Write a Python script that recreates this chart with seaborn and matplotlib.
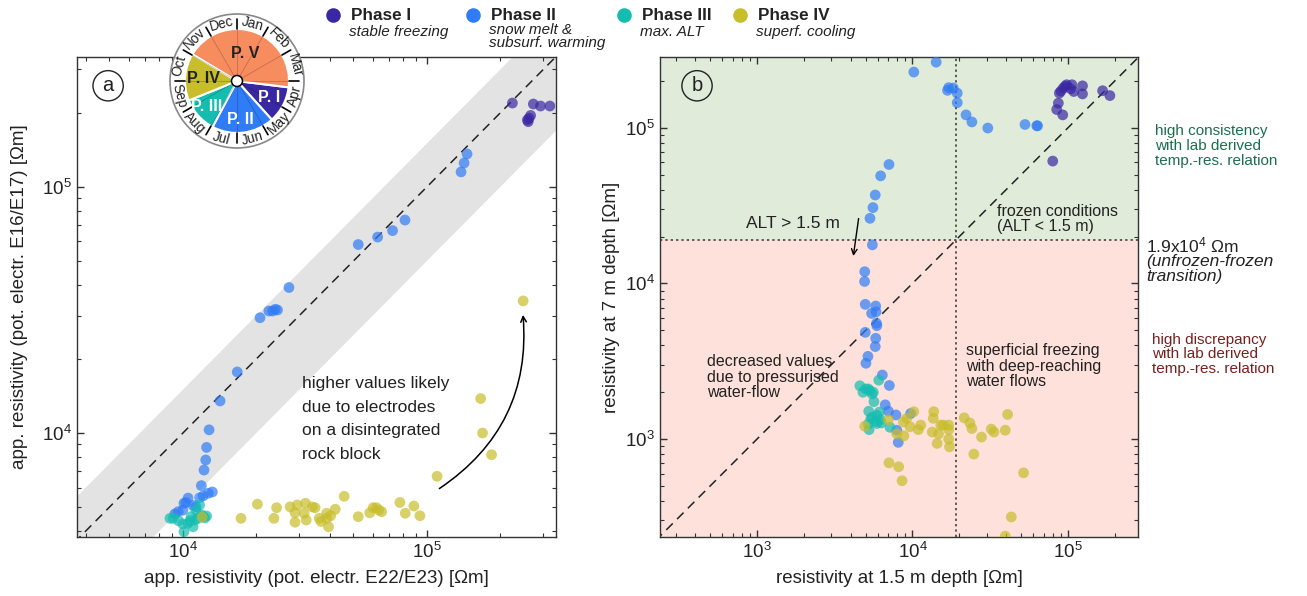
import numpy as np
import pandas as pd
import seaborn as sns
import matplotlib.pyplot as plt
from matplotlib.patches import Wedge, Circle
from matplotlib.lines import Line2D

# ---- data ----
phases = ['I', 'II', 'III', 'IV']
phase_names = ['Phase I', 'Phase II', 'Phase III', 'Phase IV']
phase_desc = ['stable freezing', 'snow melt &\nsubsurf. warming', 'max. ALT', 'superf. cooling']
colors = ['#3a27a3', '#2f7cf6', '#15bdb1', '#c8bd2a']
pv_color = '#f78c5f'

# panel a: E22/E23 (x) vs E16/E17 (y)
a_I_x = [224000, 273000, 292000, 319000, 262000, 258000, 266000, 260000]
a_I_y = [219000, 217000, 213000, 213000, 190000, 187000, 195000, 184000]
a_II_x = [146000, 142000, 138000, 81300, 72300, 62800, 52300, 27200, 23900, 23300, 22500, 24400,
          20700, 16700, 14200, 12800, 12500, 12400, 12200, 11900, 13200, 12700, 12100, 11700,
          10500, 10300, 10100, 11300, 11000, 10000, 9270, 9570]
a_II_y = [136000, 125000, 115000, 73300, 66400, 62500, 58300, 39000, 31800, 31300, 31300, 31600,
          29400, 17700, 13500, 10300, 8740, 7770, 7070, 6110, 5760, 5690, 5550, 5460,
          5440, 5220, 5180, 5010, 5080, 4860, 4690, 4790]
a_III_x = [8850, 9130, 10000, 10100, 11000, 10800, 11300, 11700, 12100, 12500, 11500, 11200,
           10500, 10700, 12300, 11900, 9600]
a_III_y = [4500, 4500, 4270, 3970, 4160, 4570, 4860, 5100, 4570, 4600, 4500, 4430,
           4300, 4400, 4520, 4650, 4400]
a_IV_x = [12000, 17300, 20200, 24200, 23600, 27500, 29400, 28800, 31800, 33900, 34800, 31400,
          32000, 28800, 36200, 36800, 38800, 40300, 39500, 38800, 42100, 45800, 52300, 58300,
          60200, 62100, 65200, 63500, 77500, 81500, 88400, 93600, 110000, 166000, 169000,
          184000, 248000]
a_IV_y = [4550, 4500, 5140, 4970, 4500, 5010, 5100, 4740, 5180, 5010, 4970, 4720,
          4430, 4340, 4500, 4370, 4720, 4610, 4160, 4500, 4900, 5530, 4570, 4740,
          4970, 4970, 4790, 4860, 5220, 4720, 5050, 4610, 6670, 13800, 10000,
          8160, 34400]

# panel b: 1.5 m depth (x) vs 7 m depth (y)
b_I_x = [79800, 92500, 84600, 86700, 88000, 93300, 98100, 106000, 109000, 124000, 124000,
         167000, 186000, 90000, 96000, 104000]
b_I_y = [61100, 121000, 131000, 144000, 167000, 180000, 189000, 189000, 171000, 186000, 165000,
         173000, 161000, 172000, 185000, 178000]
b_II_x = [10200, 14200, 17100, 16800, 18300, 19400, 19400, 22100, 24100, 30500, 52900, 63700,
          63000, 7060, 6240, 5760, 5570, 5330, 5520, 4930, 4920, 4970, 5800, 5460, 5830, 5870,
          4970, 5800, 5760, 5170, 5020, 6400, 7100, 6680, 7000, 7830, 9730, 7930, 8100, 5900]
b_II_y = [228000, 264000, 181000, 174000, 180000, 167000, 145000, 121000, 109000, 99600, 105000,
          103000, 103000, 58100, 49100, 37000, 30700, 26200, 17700, 11900, 10300, 7340, 7160,
          6420, 6570, 5550, 4850, 4440, 3930, 3400, 3070, 2580, 2210, 1660, 1510, 1430, 1460,
          1140, 953, 5350]
b_III_x = [6070, 4590, 5000, 5300, 5500, 5600, 4800, 5200, 5650, 5230, 6120, 5900, 5500, 5800,
           6200, 5200, 6300, 5260, 7170, 5400, 5900]
b_III_y = [2390, 2200, 2100, 2050, 1950, 2000, 2000, 2100, 1740, 1510, 1490, 1420, 1380, 1300,
           1330, 1250, 1270, 1150, 1190, 1350, 1260]
b_IV_x = [4930, 6990, 10200, 9190, 8740, 9650, 10900, 11300, 7930, 8810, 13700, 13600, 13400,
          14700, 14400, 15200, 15800, 17100, 17100, 17100, 17300, 21500, 23400, 24100, 27800,
          24800, 32100, 33400, 39500, 40900, 51800, 43200, 39500, 7060, 8150, 8570]
b_IV_y = [1210, 1330, 1500, 1360, 1290, 1200, 1150, 1230, 1080, 1050, 1500, 1360, 1110,
          1080, 938, 1230, 1230, 1230, 1150, 1000, 892, 1370, 1270, 1170, 1030,
          801, 1160, 1110, 1140, 1440, 607, 316, 238, 704, 664, 540]

months = ['Jan', 'Feb', 'Mar', 'Apr', 'May', 'Jun', 'Jul', 'Aug', 'Sep', 'Oct', 'Nov', 'Dec']
wheel_labels = ['P. I', 'P. II', 'P. III', 'P. IV', 'P. V']
wheel_spans = [(-48, -7), (-118, -48), (-158, -118), (149, 202), (-7, 149)]

threshold = 1.9e4


def frame(xs, ys):
    rows = []
    for ph, x, y in zip(phases, xs, ys):
        rows.append(pd.DataFrame({'x': x, 'y': y, 'phase': ph}))
    return pd.concat(rows, ignore_index=True)


df_a = frame([a_I_x, a_II_x, a_III_x, a_IV_x], [a_I_y, a_II_y, a_III_y, a_IV_y])
df_b = frame([b_I_x, b_II_x, b_III_x, b_IV_x], [b_I_y, b_II_y, b_III_y, b_IV_y])
pal = dict(zip(phases, colors))

sns.set_style('ticks')
plt.rcParams['font.family'] = ['Liberation Sans', 'DejaVu Sans']
plt.rcParams['mathtext.fontset'] = 'custom'
plt.rcParams['mathtext.rm'] = 'Liberation Sans'
plt.rcParams['mathtext.it'] = 'Liberation Sans:italic'
txt = '#222222'

fig = plt.figure(figsize=(13.07, 5.96), dpi=100)
ax1 = fig.add_axes([0.0589, 0.099, 0.3665, 0.8054])
ax2 = fig.add_axes([0.505, 0.099, 0.3657, 0.8054])


def style_axis(ax):
    ax.set_xscale('log')
    ax.set_yscale('log')
    ax.tick_params(which='both', direction='in', top=True, right=True, colors='#333333',
                   labelcolor=txt, labelsize=13.5)
    ax.tick_params(which='major', length=5, width=1)
    ax.tick_params(which='minor', length=3, width=0.8)
    for s in ax.spines.values():
        s.set_color('#333333')
        s.set_linewidth(1.0)


# ---- panel a ----
lo_a, hi_a = 3680, 338000
band_x = np.array([1000, 1e6])
ax1.fill_between(band_x, band_x * 0.5, band_x * 1.5, color='#e3e3e3', lw=0, zorder=0)
ax1.plot([1000, 1e6], [1000, 1e6], color='#222222', lw=1.1, dashes=(6, 4), zorder=1)
sns.scatterplot(data=df_a, x='x', y='y', hue='phase', palette=pal, s=60, alpha=0.7,
                linewidth=0, legend=False, ax=ax1, zorder=3)
style_axis(ax1)
ax1.set_xlim(lo_a, hi_a)
ax1.set_ylim(3780, 337000)
ax1.set_xlabel('app. resistivity (pot. electr. E22/E23) [Ωm]', fontsize=13.5, color=txt, labelpad=6)
ax1.set_ylabel('app. resistivity (pot. electr. E16/E17) [Ωm]', fontsize=13.5, color=txt, labelpad=10)
ax1.text(30700, 11400, 'higher values likely\ndue to electrodes\non a disintegrated\nrock block',
         fontsize=12.5, color=txt, va='center', ha='left', linespacing=1.72)
ax1.annotate('', xy=(247000, 31000), xytext=(110000, 5860),
             arrowprops=dict(arrowstyle='->', color='k', lw=1.1,
                             connectionstyle='arc3,rad=0.3'))
ax1.text(0.065, 0.94, 'a', transform=ax1.transAxes, fontsize=14.5, color=txt, ha='center',
         va='center', bbox=dict(boxstyle='circle,pad=0.28', fc='white', ec='#222222', lw=1))

# ---- panel b ----
ax2.axhspan(threshold, 1e7, color='#e0ebd9', lw=0, zorder=0)
ax2.axhspan(1, threshold, color='#fde1da', lw=0, zorder=0)
ax2.axhline(threshold, color='#333333', lw=1.1, ls=(0, (1.5, 2)), zorder=1)
ax2.axvline(threshold, color='#333333', lw=1.1, ls=(0, (1.5, 2)), zorder=1)
ax2.plot([100, 1e6], [100, 1e6], color='#222222', lw=1.1, dashes=(6, 4), zorder=1)
sns.scatterplot(data=df_b, x='x', y='y', hue='phase', palette=pal, s=60, alpha=0.7,
                linewidth=0, legend=False, ax=ax2, zorder=3)
style_axis(ax2)
ax2.set_xlim(238, 282000)
ax2.set_ylim(235, 285000)
ax2.set_xlabel('resistivity at 1.5 m depth [Ωm]', fontsize=13.5, color=txt, labelpad=6)
ax2.set_ylabel('resistivity at 7 m depth [Ωm]', fontsize=13.5, color=txt, labelpad=4)
ax2.text(0.0774, 0.94, 'b', transform=ax2.transAxes, fontsize=14.5, color=txt, ha='center',
         va='center', bbox=dict(boxstyle='circle,pad=0.28', fc='none', ec='#222222', lw=1))
ax2.text(3420, 24100, 'ALT > 1.5 m', fontsize=12.5, color=txt, ha='right', va='center')
ax2.annotate('', xy=(4140, 14400), xytext=(4530, 27200),
             arrowprops=dict(arrowstyle='->', color='k', lw=1))
ax2.text(34900, 26000, 'frozen conditions\n(ALT < 1.5 m)', fontsize=11.5, color=txt,
         ha='left', va='center', linespacing=1.05)
ax2.text(477, 2500, 'decreased values\ndue to pressurised\nwater-flow', fontsize=11.5,
         color=txt, ha='left', va='center', linespacing=1.05)
ax2.text(22100, 2940, 'superficial freezing\nwith deep-reaching\nwater flows', fontsize=11.5,
         color=txt, ha='left', va='center', linespacing=1.05)

# right-hand notes
fig.text(0.8837, 0.792, 'high consistency\nwith lab derived\ntemp.-res. relation', fontsize=11,
         color='#1b6e4f', ha='left', va='top', linespacing=1.07)
fig.text(0.8768, 0.589, '1.9x10$^4$ Ωm', fontsize=12.5, color=txt, ha='left', va='center')
fig.text(0.8768, 0.574, '(unfrozen-frozen\ntransition)', fontsize=12.5, color=txt,
         style='italic', ha='left', va='top', linespacing=1.0)
fig.text(0.8814, 0.442, 'high discrepancy\nwith lab derived\ntemp.-res. relation', fontsize=11,
         color='#7a1f1f', ha='left', va='top', linespacing=1.07)

# ---- top legend ----
marker_x = [333, 473, 624, 740]
for mx, name, desc, c in zip(marker_x, phase_names, phase_desc, colors):
    fig.add_artist(Line2D([mx / 1307], [1 - 15 / 596], marker='o', ms=10.5, color=c, mec='none',
                          transform=fig.transFigure))
    fig.text((mx + 18) / 1307, 1 - 15 / 596, name, fontsize=12.3, weight='bold', color=txt,
             ha='left', va='center')
    top = 25 if '\n' not in desc else 23
    fig.text((mx + 16) / 1307, 1 - top / 596, desc, fontsize=11, style='italic', color=txt,
             ha='left', va='top', linespacing=0.95)

# ---- season wheel ----
axw = fig.add_axes([167 / 1307, 1 - 151 / 596, 140 / 1307, 140 / 596])
axw.set_xlim(-70, 70)
axw.set_ylim(-70, 70)
axw.axis('off')
axw.add_patch(Circle((0, 0), 67, fc='white', ec='#888888', lw=1.2))
wheel_colors = colors + [pv_color]
for (t1, t2), c in zip(wheel_spans, wheel_colors):
    axw.add_patch(Wedge((0, 0), 52, t1, t2, fc=c, ec='white', lw=1.5))
for k in range(12):
    a = np.deg2rad(90 - 30 * k)
    axw.plot([0, 52 * np.cos(a)], [0, 52 * np.sin(a)], color='k', lw=0.5, alpha=0.25)
    axw.plot([52 * np.cos(a), 62 * np.cos(a)], [52 * np.sin(a), 62 * np.sin(a)],
             color='k', lw=1.2)
for k, m in enumerate(months):
    ang = 75 - 30 * k
    a = np.deg2rad(ang)
    angn = (ang + 180) % 360 - 180
    rot = angn - 90 if angn >= 0 else angn + 90
    axw.text(59.5 * np.cos(a), 59.5 * np.sin(a), m, fontsize=9.8, color=txt, ha='center',
             va='center', rotation=rot, rotation_mode='anchor')
label_pos = [(36, -28), (39, -85), (40, -140), (34, 176), (29, 73)]
label_col = ['white', 'white', 'white', '#222222', '#222222']
for lab, (r, ang), c in zip(wheel_labels, label_pos, label_col):
    a = np.deg2rad(ang)
    axw.text(r * np.cos(a), r * np.sin(a), lab, fontsize=11.5, weight='bold', color=c,
             ha='center', va='center')
axw.add_patch(Circle((0, 0), 5.5, fc='white', ec='k', lw=1.1, zorder=5))

fig.savefig('out.png', dpi=100)
